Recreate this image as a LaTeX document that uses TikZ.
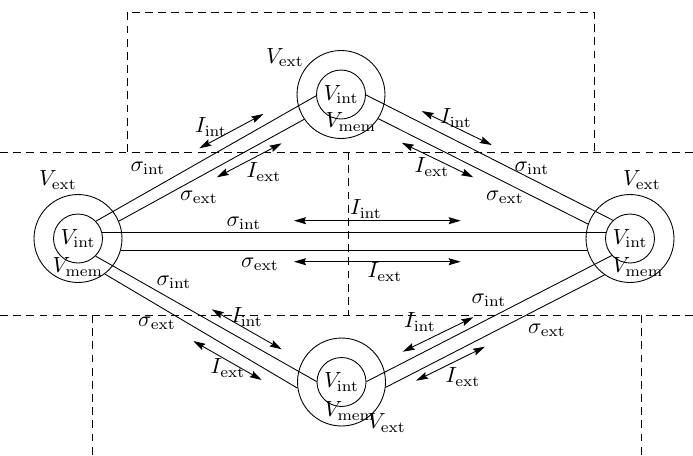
\documentclass[tikz,border=0pt]{standalone}
\usetikzlibrary{arrows.meta}
\tikzset{
  >={Stealth[length=5.5pt,width=3.2pt,inset=0.8pt]},
  cell/.style={circle,draw,inner sep=0pt,minimum size=#1},
  current/.style={<->},
  region/.style={dash pattern=on 3.6pt off 2.4pt},
  lab/.style={inner sep=0pt},
}
\begin{document}
\begin{tikzpicture}[x=0.016cm,y=-0.016cm]
  \useasboundingbox (0,0) rectangle (693,455);
  % compartments
  \draw[region] (127,152) -- (127,12) -- (594,12) -- (594,152);
  \draw[region] (0,152) -- (693,152);
  \draw[region] (348,152) -- (348,315);
  \draw[region] (0,315) -- (693,315);
  \draw[region] (92,315) -- (92,455);
  \draw[region] (641,315) -- (641,455);
  % cells
  \foreach \n/\x/\y in {top/341/94.5,left/78/238.5,right/630/238.5,bot/341.5/382} {
    \node[cell=14.08mm] (o\n) at (\x,\y) {};
    \node[cell=7.84mm] (i\n) at (\x,\y) {$V_{\mathrm{int}}$};
  }
  \node[lab] (exttop) at (285,57.5) {$V_{\mathrm{ext}}$};
  \node[lab] (memtop) at (351,122) {$V_{\mathrm{mem}}$};
  \node[lab] (extleft) at (58,180) {$V_{\mathrm{ext}}$};
  \node[lab] (memleft) at (78,267) {$V_{\mathrm{mem}}$};
  \node[lab] (extright) at (642,180) {$V_{\mathrm{ext}}$};
  \node[lab] (memright) at (638,267) {$V_{\mathrm{mem}}$};
  \node[lab] (membot) at (350,411) {$V_{\mathrm{mem}}$};
  \node[lab] (extbot) at (387,423) {$V_{\mathrm{ext}}$};
  % channels
  \draw (ileft.44) -- (itop.183);
  \draw (oleft.23) -- (otop.214);
  \draw (itop.-1) -- (iright.133);
  \draw (otop.-33) -- (oright.161.5);
  \draw (ileft.15) -- (iright.165);
  \draw (oleft.-16) -- (oright.196);
  \draw (ileft.-45) -- (ibot.179);
  \draw (oleft.-53) -- (obot.188.5);
  \draw (ibot.1) -- (iright.223);
  \draw (obot.-7.5) -- (oright.235);
  % currents
  \coordinate (tli1) at (199.3,148.3); \coordinate (tli2) at (263.3,114);
  \coordinate (tle1) at (216.7,177.3); \coordinate (tle2) at (281.7,143.3);
  \coordinate (tri1) at (421.7,111);   \coordinate (tri2) at (491.7,145);
  \coordinate (tre1) at (401.7,142.7); \coordinate (tre2) at (473.3,177.3);
  \coordinate (hi1) at (294,220.7);    \coordinate (hi2) at (460.7,220.7);
  \coordinate (he1) at (294,261.7);    \coordinate (he2) at (460.7,261.7);
  \coordinate (bli1) at (211.7,309.3); \coordinate (bli2) at (281.7,349.3);
  \coordinate (ble1) at (193.3,341);   \coordinate (ble2) at (261.7,380);
  \coordinate (bri1) at (402.7,351.7); \coordinate (bri2) at (473.3,317.3);
  \coordinate (bre1) at (416,380.7);   \coordinate (bre2) at (485,346.7);
  \foreach \a in {tli,tle,tri,tre,hi,he,bli,ble,bri,bre}
    \draw[current] (\a1) -- (\a2);
  % labels
  \node[lab] (tlI) at (211,127) {$I_{\mathrm{int}}$};
  \node[lab] (tlE) at (264,172) {$I_{\mathrm{ext}}$};
  \node[lab] (tls) at (148,168) {$\sigma_{\mathrm{int}}$};
  \node[lab] (tlx) at (199,197) {$\sigma_{\mathrm{ext}}$};
  \node[lab] (trI) at (456,118) {$I_{\mathrm{int}}$};
  \node[lab] (trE) at (432,167) {$I_{\mathrm{ext}}$};
  \node[lab] (trs) at (532,168) {$\sigma_{\mathrm{int}}$};
  \node[lab] (trx) at (505,197) {$\sigma_{\mathrm{ext}}$};
  \node[lab] (hI) at (366,209) {$I_{\mathrm{int}}$};
  \node[lab] (hE) at (385,272) {$I_{\mathrm{ext}}$};
  \node[lab] (hs) at (244,223) {$\sigma_{\mathrm{int}}$};
  \node[lab] (hx) at (260,264) {$\sigma_{\mathrm{ext}}$};
  \node[lab] (bls) at (174,282) {$\sigma_{\mathrm{int}}$};
  \node[lab] (blx) at (157,323) {$\sigma_{\mathrm{ext}}$};
  \node[lab] (blI) at (247,317) {$I_{\mathrm{int}}$};
  \node[lab] (blE) at (228,368) {$I_{\mathrm{ext}}$};
  \node[lab] (brs) at (489,300) {$\sigma_{\mathrm{int}}$};
  \node[lab] (brx) at (547,330) {$\sigma_{\mathrm{ext}}$};
  \node[lab] (brI) at (420,322) {$I_{\mathrm{int}}$};
  \node[lab] (brE) at (463,377) {$I_{\mathrm{ext}}$};
\end{tikzpicture}
\end{document}
